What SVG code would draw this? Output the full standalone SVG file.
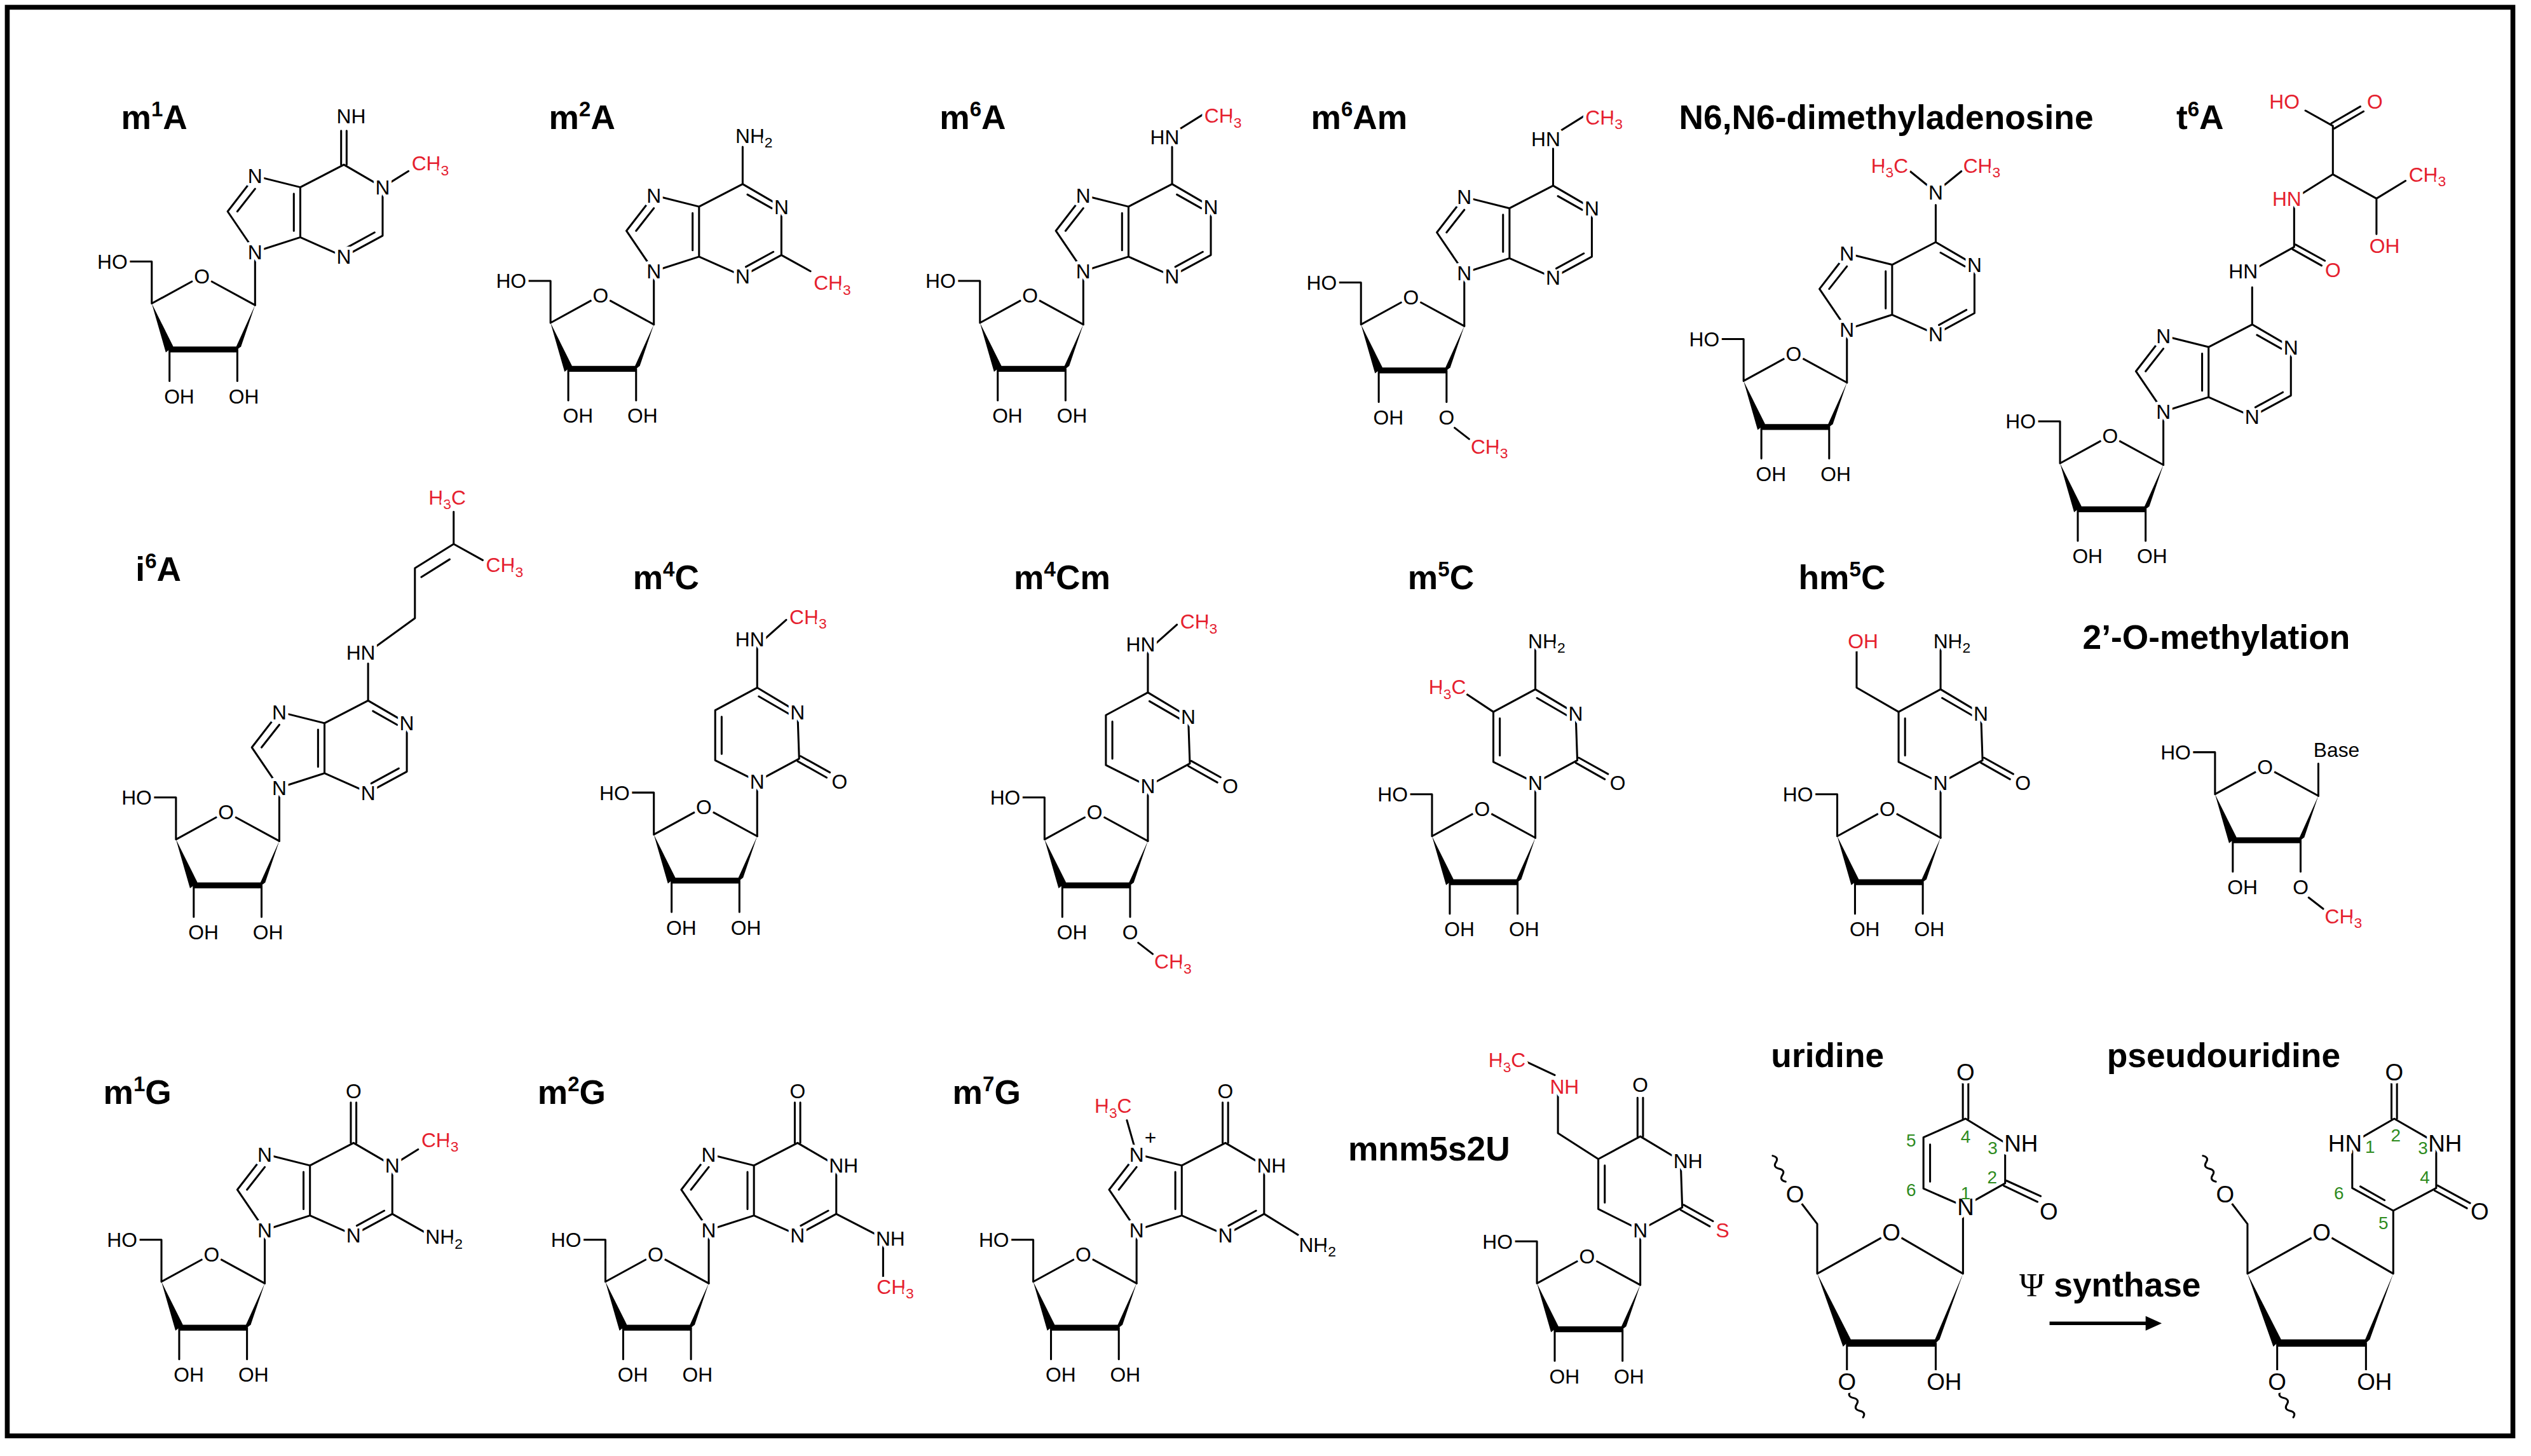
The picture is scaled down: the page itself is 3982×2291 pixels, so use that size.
<svg xmlns="http://www.w3.org/2000/svg" xmlns:xlink="http://www.w3.org/1999/xlink" width="3982" height="2291" viewBox="0 0 3982 2291">
<style>
.bd{stroke:#000;stroke-width:1.2;fill:none;stroke-linecap:round;stroke-linejoin:round}
.tk{stroke:#000;stroke-width:3.6}
.at{font-family:"Liberation Sans",Arial,sans-serif;font-size:12.5px;fill:#000;stroke:#fff;stroke-width:4px;paint-order:stroke;stroke-linejoin:round}
.big{font-size:14.5px}
.r{fill:#e5202e}
.g{font-family:"Liberation Sans",Arial,sans-serif;font-size:11px;fill:#2e8b1e;text-anchor:middle}
.m{text-anchor:middle}
.e{text-anchor:end}
.sb{font-size:9px}
.ti{font-family:"Liberation Sans",Arial,sans-serif;font-weight:bold;font-size:21px;fill:#000}
.sp{font-size:13px}
</style>
<defs>
<g id="rib">
<path class="bd" d="M-80,-27 H-64 V-1 L-39,-14.7 M-27,-14.7 L0,0 M-53,27.5 V47"/>
<polygon points="-64,-1 -55.3,29.3 -50.7,25.7"/>
<line class="tk" x1="-53" y1="27.5" x2="-11" y2="27.5"/>
<polygon points="-13.3,29.3 -8.7,25.7 0,0"/>
<path class="bd" d="M-11,27.5 V47"/>
<text class="at e" x="-79" y="-22.5">HO</text>
<text class="at m" x="-33" y="-13.5">O</text>
<text class="at m" x="-47" y="61">OH</text>
</g>
<g id="ribOH"><use xlink:href="#rib"/><text class="at m" x="-7" y="61">OH</text></g>
<g id="ribOMe"><use xlink:href="#rib"/><path class="bd" d="M-6,63 L3,70"/><text class="at m" x="-11" y="61">O</text><text class="at r" x="4" y="79">CH<tspan class="sb" dy="3">3</tspan></text></g>
<g id="pur">
<path class="bd" d="M0,0 V-33 L-17,-58 L0,-80 L28,-73 L28,-42 L0,-33 M28,-42 L55,-30 L79,-43 L79,-73 L55,-87 L28,-73 M-11,-58 L0,-72 M24,-69 V-46"/>
<text class="at m" x="0" y="-28.5">N</text>
<text class="at m" x="55" y="-25.5">N</text>
</g>
<g id="purN7"><use xlink:href="#pur"/><text class="at m" x="0" y="-75.5">N</text></g>
<g id="adeD"><path class="bd" d="M57,-35.7 L74,-45 M73,-72 L58,-80.5 M55,-87 V-110"/><text class="at m" x="79" y="-68.5">N</text></g>
<g id="pyr">
<path class="bd" d="M0,0 V-34 L26,-48 L25,-77 L0,-92 L-26,-78 L-26,-47 L0,-34 M-22,-74 V-51 M26.9,-49.6 L45,-39.5 M25.1,-46.4 L43,-36.3"/>
<text class="at m" x="0" y="-29.5">N</text>
</g>
<g id="guaD"><path class="bd" d="M57,-35.7 L74,-45 M53.3,-87 V-112 M56.7,-87 V-112"/><text class="at m" x="55" y="-114.5">O</text></g>
</defs>
<rect x="10" y="10" width="3932" height="2243" fill="#fff"/>
<g transform="scale(2.54)">
<rect x="4.5" y="4.5" width="1552" height="885" fill="none" stroke="#000" stroke-width="3"/>

<g id="m1A">
<text class="ti" x="75" y="80">m<tspan class="sp" dy="-8">1</tspan><tspan dy="8">A</tspan></text>
<g transform="translate(158,189)">
<path class="bd" d="M57,-35.7 L74,-45 M53.3,-87 V-108 M56.7,-87 V-108 M79,-73 L95,-83"/>
<use xlink:href="#ribOH"/><use xlink:href="#purN7"/>
<text class="at m" x="79" y="-68.5">N</text>
<text class="at" x="50.5" y="-112.5">NH</text>
<text class="at r" x="97" y="-83.5">CH<tspan class="sb" dy="3">3</tspan></text>
</g></g>

<g id="m2A">
<text class="ti" x="340" y="80">m<tspan class="sp" dy="-8">2</tspan><tspan dy="8">A</tspan></text>
<g transform="translate(405,201)">
<path class="bd" d="M79,-43 L97,-33"/>
<use xlink:href="#ribOH"/><use xlink:href="#purN7"/><use xlink:href="#adeD"/>
<text class="at" x="50.5" y="-112.5">NH<tspan class="sb" dy="3">2</tspan></text>
<text class="at r" x="99" y="-21.5">CH<tspan class="sb" dy="3">3</tspan></text>
</g></g>

<g id="m6A">
<text class="ti" x="582" y="80">m<tspan class="sp" dy="-8">6</tspan><tspan dy="8">A</tspan></text>
<g transform="translate(671,201)">
<path class="bd" d="M58,-120 L74,-130"/>
<use xlink:href="#ribOH"/><use xlink:href="#purN7"/><use xlink:href="#adeD"/>
<text class="at e" x="59.5" y="-111.5">HN</text>
<text class="at r" x="75" y="-125">CH<tspan class="sb" dy="3">3</tspan></text>
</g></g>

<g id="m6Am">
<text class="ti" x="812" y="80">m<tspan class="sp" dy="-8">6</tspan><tspan dy="8">Am</tspan></text>
<g transform="translate(907,202)">
<path class="bd" d="M58,-120 L74,-130"/>
<use xlink:href="#ribOMe"/><use xlink:href="#purN7"/><use xlink:href="#adeD"/>
<text class="at e" x="59.5" y="-111.5">HN</text>
<text class="at r" x="75" y="-125">CH<tspan class="sb" dy="3">3</tspan></text>
</g></g>

<g id="N6N6">
<text class="ti" x="1040" y="80">N6,N6-dimethyladenosine</text>
<g transform="translate(1144,237)">
<path class="bd" d="M55,-118 L39,-131 M55,-118 L71,-131"/>
<use xlink:href="#ribOH"/><use xlink:href="#purN7"/><use xlink:href="#adeD"/>
<text class="at m" x="55" y="-113.5">N</text>
<text class="at r e" x="38" y="-130">H<tspan class="sb" dy="3">3</tspan><tspan dy="-3">C</tspan></text>
<text class="at r" x="72" y="-130">CH<tspan class="sb" dy="3">3</tspan></text>
</g></g>

<g id="t6A">
<text class="ti" x="1348" y="80">t<tspan class="sp" dy="-8">6</tspan><tspan dy="8">A</tspan></text>
<g transform="translate(1340,288)">
<path class="bd" d="M54,-120 L81,-135 V-165 L105,-180 V-210 L88,-219.5 M105,-180 L132,-165 V-143 M132,-165 L150,-176 M80.1,-133.5 L98,-123.5 M81.9,-136.5 L100,-126.5 M105.9,-208.4 L124,-219 M104.1,-211.6 L122,-222"/>
<use xlink:href="#ribOH"/><use xlink:href="#purN7"/><use xlink:href="#adeD"/>
<text class="at e" x="58.5" y="-115.5">HN</text>
<text class="at r m" x="105" y="-116.5">O</text>
<text class="at r e" x="85.5" y="-160.5">HN</text>
<text class="at r e" x="84.4" y="-220.5">HO</text>
<text class="at r m" x="131" y="-220.5">O</text>
<text class="at r m" x="137" y="-131.5">OH</text>
<text class="at r" x="152" y="-175.5">CH<tspan class="sb" dy="3">3</tspan></text>
</g></g>

<g id="i6A">
<text class="ti" x="84" y="360">i<tspan class="sp" dy="-8">6</tspan><tspan dy="8">A</tspan></text>
<g transform="translate(173,521)">
<path class="bd" d="M55,-117 L84,-138 V-169 L108,-184 L126,-174 M108,-184 V-204 M88,-163.5 L105.5,-174.5"/>
<use xlink:href="#ribOH"/><use xlink:href="#purN7"/><use xlink:href="#adeD"/>
<text class="at e" x="59.5" y="-112.5">HN</text>
<text class="at r" x="128" y="-166.5">CH<tspan class="sb" dy="3">3</tspan></text>
<text class="at r m" x="104" y="-208.5">H<tspan class="sb" dy="3">3</tspan><tspan dy="-3">C</tspan></text>
</g></g>

<g id="m4C">
<text class="ti" x="392" y="365">m<tspan class="sp" dy="-8">4</tspan><tspan dy="8">C</tspan></text>
<g transform="translate(469,518)">
<path class="bd" d="M1,-86.6 L20,-75.6 M0,-92 V-118 L18,-134"/>
<use xlink:href="#ribOH"/><use xlink:href="#pyr"/>
<text class="at m" x="25" y="-72.5">N</text>
<text class="at m" x="51" y="-29.5">O</text>
<text class="at e" x="4.5" y="-117.5">HN</text>
<text class="at r" x="20" y="-131.5">CH<tspan class="sb" dy="3">3</tspan></text>
</g></g>

<g id="m4Cm">
<text class="ti" x="628" y="365">m<tspan class="sp" dy="-8">4</tspan><tspan dy="8">Cm</tspan></text>
<g transform="translate(711,521)">
<path class="bd" d="M1,-86.6 L20,-75.6 M0,-92 V-118 L18,-134"/>
<use xlink:href="#ribOMe"/><use xlink:href="#pyr"/>
<text class="at m" x="25" y="-72.5">N</text>
<text class="at m" x="51" y="-29.5">O</text>
<text class="at e" x="4.5" y="-117.5">HN</text>
<text class="at r" x="20" y="-131.5">CH<tspan class="sb" dy="3">3</tspan></text>
</g></g>

<g id="m5C">
<text class="ti" x="872" y="365">m<tspan class="sp" dy="-8">5</tspan><tspan dy="8">C</tspan></text>
<g transform="translate(951,519)">
<path class="bd" d="M1,-86.6 L20,-75.6 M0,-92 V-118 M-26,-78 L-44,-90"/>
<use xlink:href="#ribOH"/><use xlink:href="#pyr"/>
<text class="at m" x="25" y="-72.5">N</text>
<text class="at m" x="51" y="-29.5">O</text>
<text class="at" x="-4.5" y="-117.5">NH<tspan class="sb" dy="3">2</tspan></text>
<text class="at r e" x="-43" y="-89">H<tspan class="sb" dy="3">3</tspan><tspan dy="-3">C</tspan></text>
</g></g>

<g id="hm5C">
<text class="ti" x="1114" y="365">hm<tspan class="sp" dy="-8">5</tspan><tspan dy="8">C</tspan></text>
<g transform="translate(1202,519)">
<path class="bd" d="M1,-86.6 L20,-75.6 M0,-92 V-118 M-26,-78 L-52,-93 V-118"/>
<use xlink:href="#ribOH"/><use xlink:href="#pyr"/>
<text class="at m" x="25" y="-72.5">N</text>
<text class="at m" x="51" y="-29.5">O</text>
<text class="at" x="-4.5" y="-117.5">NH<tspan class="sb" dy="3">2</tspan></text>
<text class="at r m" x="-48" y="-117.5">OH</text>
</g></g>

<g id="OMe2">
<text class="ti" x="1290" y="402">2’-O-methylation</text>
<g transform="translate(1436,493)">
<path class="bd" d="M0,0 V-20"/>
<use xlink:href="#ribOMe"/>
<text class="at" x="-3" y="-24">Base</text>
</g></g>

<g id="m1G">
<text class="ti" x="64" y="684">m<tspan class="sp" dy="-8">1</tspan><tspan dy="8">G</tspan></text>
<g transform="translate(164,795)">
<path class="bd" d="M79,-73 L95,-83 M79,-43 L102,-30"/>
<use xlink:href="#ribOH"/><use xlink:href="#purN7"/><use xlink:href="#guaD"/>
<text class="at m" x="79" y="-68.5">N</text>
<text class="at r" x="97" y="-84.5">CH<tspan class="sb" dy="3">3</tspan></text>
<text class="at" x="99.5" y="-24.5">NH<tspan class="sb" dy="3">2</tspan></text>
</g></g>

<g id="m2G">
<text class="ti" x="333" y="684">m<tspan class="sp" dy="-8">2</tspan><tspan dy="8">G</tspan></text>
<g transform="translate(439,795)">
<path class="bd" d="M79,-43 L108,-28 V-4"/>
<use xlink:href="#ribOH"/><use xlink:href="#purN7"/><use xlink:href="#guaD"/>
<text class="at" x="74.5" y="-68.5">NH</text>
<text class="at" x="103.5" y="-23.5">NH</text>
<text class="at r" x="104" y="6.5">CH<tspan class="sb" dy="3">3</tspan></text>
</g></g>

<g id="m7G">
<text class="ti" x="590" y="684">m<tspan class="sp" dy="-8">7</tspan><tspan dy="8">G</tspan></text>
<g transform="translate(704,795)">
<path class="bd" d="M0,-80 L-6,-101 M79,-43 L100,-30"/>
<use xlink:href="#ribOH"/><use xlink:href="#pur"/><use xlink:href="#guaD"/>
<text class="at m" x="0" y="-75.5">N</text>
<text class="at" x="5" y="-86" font-size="9">+</text>
<text class="at r e" x="-3" y="-105.5">H<tspan class="sb" dy="3">3</tspan><tspan dy="-3">C</tspan></text>
<text class="at" x="74.5" y="-68.5">NH</text>
<text class="at" x="100.5" y="-19.5">NH<tspan class="sb" dy="3">2</tspan></text>
</g></g>

<g id="mnm5s2U">
<text class="ti" x="835" y="719">mnm5s2U</text>
<g transform="translate(1016,796)">
<path class="bd" d="M-1.7,-92 V-116 M1.7,-92 V-116 M-26,-78 L-51,-94 V-118 M-53,-130 L-70,-138"/>
<use xlink:href="#ribOH"/><use xlink:href="#pyr"/>
<text class="at" x="20.5" y="-72.5">NH</text>
<text class="at r m" x="51" y="-29.5">S</text>
<text class="at m" x="0" y="-119.5">O</text>
<text class="at r" x="-56" y="-118.5">NH</text>
<text class="at r e" x="-71" y="-135">H<tspan class="sb" dy="3">3</tspan><tspan dy="-3">C</tspan></text>
</g></g>

<g id="uridine">
<text class="ti" x="1097" y="661">uridine</text>
<path class="bd" d="M1106,732 q-4,-1 -2,-4 q2,-3 -2,-4 q-4,-1 -2,-4 q2,-3 -2,-4"/>
<path class="bd" d="M1146,862 q-2,3 2,4 q4,1 2,4 q-2,3 2,4 q4,1 2,4"/>
<path class="bd" d="M1115.5,745 L1125.6,758.2 V789 L1165,767 M1178,767 L1215.9,789 V747.7 L1242,733 L1242,708 L1217.5,693 L1191.4,704.6 V736.3 L1217.5,747.7 M1195.5,709 V732 M1215.8,693 V670 M1219.2,693 V670 M1241.2,734.6 L1262,744.5 M1242.8,731.4 L1264,741 M1144,832 V850 M1199,832 V850"/>
<polygon points="1125.6,789 1141.6,834.3 1146.4,829.7"/>
<line x1="1144" y1="832" x2="1199" y2="832" stroke="#000" stroke-width="4.6"/>
<polygon points="1196.6,834.3 1201.4,829.7 1215.9,789"/>
<text class="at big m" x="1111.8" y="745">O</text>
<text class="at big m" x="1171.5" y="768.7">O</text>
<text class="at big m" x="1144" y="861">O</text>
<text class="at big" x="1193.4" y="861">OH</text>
<text class="at big m" x="1217.5" y="752.9">N</text>
<text class="at big" x="1241.4" y="713.3">NH</text>
<text class="at big m" x="1217.5" y="669.4">O</text>
<text class="at big m" x="1269" y="755.5">O</text>
<text class="g" x="1183.8" y="710.4">5</text>
<text class="g" x="1217.5" y="707.7">4</text>
<text class="g" x="1234.3" y="714.8">3</text>
<text class="g" x="1234" y="733">2</text>
<text class="g" x="1217.5" y="742.9">1</text>
<text class="g" x="1183.8" y="741.1">6</text>
</g>

<g id="pseudouridine">
<text class="ti" x="1305" y="661">pseudouridine</text>
<path class="bd" d="M1372.5,732 q-4,-1 -2,-4 q2,-3 -2,-4 q-4,-1 -2,-4 q2,-3 -2,-4"/>
<path class="bd" d="M1412.5,862 q-2,3 2,4 q4,1 2,4 q-2,3 2,4 q4,1 2,4"/>
<path class="bd" d="M1382,745 L1392.1,758.2 V789 L1431.5,767 M1444.5,767 L1482.4,789 V750 L1457,736 L1457,708 L1483,693 L1509,708 L1509,736 L1482.4,750 M1477,743.5 L1462,735 M1481.3,693 V670 M1484.7,693 V670 M1508.1,737.6 L1528,748.5 M1509.9,734.4 L1530,745.3 M1410.5,832 V850 M1465.5,832 V850"/>
<polygon points="1392.1,789 1408.1,834.3 1412.9,829.7"/>
<line x1="1410.5" y1="832" x2="1465.5" y2="832" stroke="#000" stroke-width="4.6"/>
<polygon points="1463.1,834.3 1467.9,829.7 1482.4,789"/>
<text class="at big m" x="1378.3" y="745">O</text>
<text class="at big m" x="1438" y="768.7">O</text>
<text class="at big m" x="1410.5" y="861">O</text>
<text class="at big" x="1459.9" y="861">OH</text>
<text class="at big e" x="1463" y="713.3">HN</text>
<text class="at big" x="1504" y="713.3">NH</text>
<text class="at big m" x="1483" y="669.4">O</text>
<text class="at big m" x="1536" y="755.5">O</text>
<text class="g" x="1468" y="714">1</text>
<text class="g" x="1484" y="707">2</text>
<text class="g" x="1500.8" y="714.8">3</text>
<text class="g" x="1502" y="733">4</text>
<text class="g" x="1476.3" y="761.4">5</text>
<text class="g" x="1448.7" y="743">6</text>
</g>

<g id="connectors">
<line x1="1269.5" y1="819.8" x2="1331" y2="819.8" stroke="#000" stroke-width="2.2"/>
<polygon points="1329,815.3 1339,819.8 1329,824.3"/>
<text class="ti" x="1307" y="803" font-size="18" text-anchor="middle"><tspan font-family="Liberation Serif" font-weight="normal">Ψ</tspan> synthase</text>
</g>
</g>
</svg>
